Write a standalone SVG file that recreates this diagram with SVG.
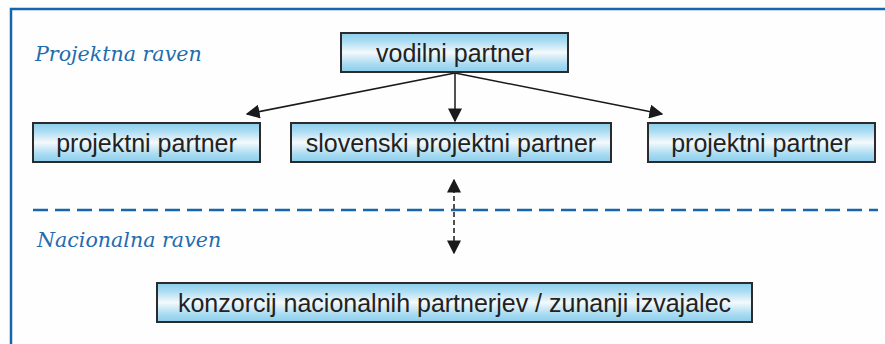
<svg xmlns="http://www.w3.org/2000/svg" width="885" height="344" viewBox="0 0 885 344">
<defs>
<linearGradient id="g" x1="0" y1="0" x2="0" y2="1">
<stop offset="0" stop-color="#8ccdec"/>
<stop offset="0.2" stop-color="#a8dbf2"/>
<stop offset="0.5" stop-color="#f4f9fc"/>
<stop offset="0.8" stop-color="#a8dbf2"/>
<stop offset="1" stop-color="#8ccdec"/>
</linearGradient>
<marker id="ah2" viewBox="0 0 10 10" refX="9" refY="5" markerWidth="14" markerHeight="14" orient="auto-start-reverse" markerUnits="userSpaceOnUse">
<path d="M0,0 L10,5 L0,10 z" fill="#1a1a1a"/>
</marker>
</defs>
<style>
.box{fill:url(#g);stroke:#2b2b2b;stroke-width:2}
.lbl{font-family:"Liberation Sans",Arial,sans-serif;font-size:25px;fill:#222;text-anchor:middle}
.lvl{font-family:"DejaVu Serif","Liberation Serif",serif;font-style:italic;font-size:20.6px;fill:#1f6cae}
.con{stroke:#1a1a1a;stroke-width:1.5;fill:none}
</style>
<rect x="0" y="0" width="885" height="344" fill="#fefefe"/>
<rect x="11" y="9" width="890" height="350" fill="none" stroke="#1766ad" stroke-width="2.5"/>
<text class="lvl" x="35" y="61">Projektna raven</text>
<text class="lvl" x="37" y="247">Nacionalna raven</text>
<line x1="33" y1="210" x2="878" y2="210" stroke="#1766ad" stroke-width="2.5" stroke-dasharray="15,7"/>
<g id="connectors">
<line class="con" x1="455" y1="73" x2="247" y2="114" marker-end="url(#ah2)"/>
<line class="con" x1="455" y1="73" x2="662" y2="114" marker-end="url(#ah2)"/>
<line class="con" x1="455" y1="73" x2="455" y2="121" marker-end="url(#ah2)"/>
<line class="con" x1="454" y1="180" x2="454" y2="253" stroke-width="2.2" stroke-dasharray="5,3" marker-start="url(#ah2)" marker-end="url(#ah2)"/>
</g>
<g id="vodilni"><rect class="box" x="341" y="33" width="227" height="39"/><text class="lbl" x="454.5" y="62">vodilni partner</text></g>
<g id="pp-left"><rect class="box" x="33" y="123" width="227" height="39"/><text class="lbl" x="146.5" y="152">projektni partner</text></g>
<g id="slovenski"><rect class="box" x="291" y="123" width="320" height="39"/><text class="lbl" x="451" y="152">slovenski projektni partner</text></g>
<g id="pp-right"><rect class="box" x="648" y="123" width="227" height="39"/><text class="lbl" x="761.5" y="152">projektni partner</text></g>
<g id="konzorcij"><rect class="box" x="157" y="283" width="595" height="39"/><text class="lbl" x="454.5" y="312">konzorcij nacionalnih partnerjev / zunanji izvajalec</text></g>
</svg>
